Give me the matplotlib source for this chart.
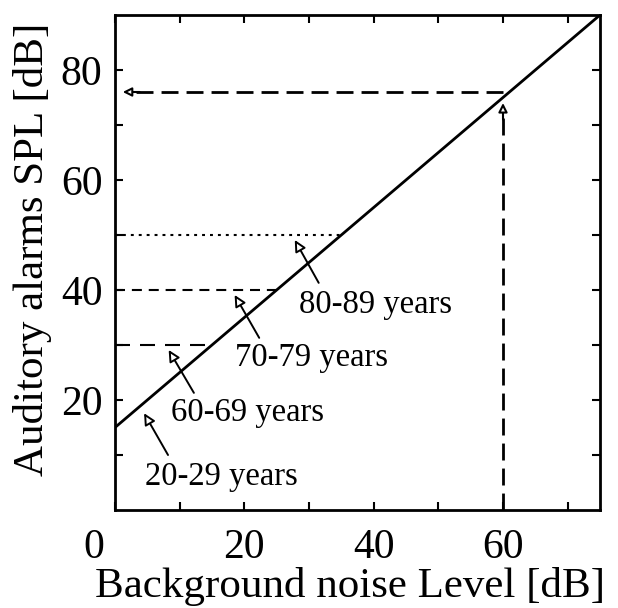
import matplotlib
matplotlib.use("Agg")
import matplotlib.pyplot as plt
from matplotlib.transforms import ScaledTranslation

plt.rcParams['font.family'] = ['Liberation Serif', 'DejaVu Serif']

# Relation between background noise and required alarm level
noise_range = [0, 75]
alarm_range = [15, 90]

# Age-group threshold levels (dB)
age_groups = ["20-29 years", "60-69 years", "70-79 years", "80-89 years"]
threshold_levels = [None, 30, 40, 50]

# Worked example: 60 dB background noise
example_noise = 60
example_alarm = 76

# Annotation geometry: (text x, text y), (arrow tail), (arrow tip)
label_xy = [(4.6, 6.0), (8.6, 17.6), (18.5, 27.6), (28.5, 37.3)]
arrow_tail = [(8.2, 10.0), (12.2, 21.3), (22.3, 31.3), (31.5, 41.3)]
arrow_tip = [(4.5, 17.6), (8.3, 29.1), (18.5, 39.1), (27.8, 49.1)]

x_ticks = [0, 20, 40, 60]
y_ticks = [20, 40, 60, 80]

fig = plt.figure(figsize=(6.18, 6.08), dpi=100)
ax = fig.add_axes([115 / 618, 1 - 510 / 608, 485 / 618, 495 / 608])

ax.plot(noise_range, alarm_range, color='black', lw=2.0, solid_capstyle='butt')

styles = {30: (0, (7.2, 4.8)), 40: (0, (4.8, 3.3)), 50: (0, (1.4, 2.4))}
for lvl in threshold_levels:
    if lvl is None:
        continue
    x_end = lvl - alarm_range[0]
    ax.plot([0, x_end], [lvl, lvl], color='black', lw=1.5, linestyle=styles[lvl])

# Example dashed guides with arrowheads
dash = (0, (6.1, 2.9))
ax.plot([example_noise, example_noise], [0, example_alarm - 4], color='black', lw=2.0, linestyle=dash)
ax.plot([example_noise, 3.0], [example_alarm, example_alarm], color='black', lw=2.0, linestyle=dash)
ax.annotate('', xy=(example_noise, example_alarm - 2), xytext=(example_noise, example_alarm - 5),
            arrowprops=dict(arrowstyle='-|>', color='black', lw=1.5, fc='white',
                            mutation_scale=13, shrinkA=0, shrinkB=0))
ax.annotate('', xy=(1.2, example_alarm), xytext=(3.8, example_alarm),
            arrowprops=dict(arrowstyle='-|>', color='black', lw=1.5, fc='white',
                            mutation_scale=13, shrinkA=0, shrinkB=0))

for name, txy, tail, tip in zip(age_groups, label_xy, arrow_tail, arrow_tip):
    ax.text(txy[0], txy[1], name, fontsize=23.5, ha='left', va='center')
    ax.annotate('', xy=tip, xytext=tail,
                arrowprops=dict(arrowstyle='-|>', color='black', lw=1.4, fc='white',
                                mutation_scale=17, shrinkA=0, shrinkB=0))

ax.set_xlim(0, 75)
ax.set_ylim(0, 90)
ax.set_xticks(x_ticks)
ax.set_xticks([10, 30, 50, 70], minor=True)
ax.set_yticks(y_ticks)
ax.set_yticks([10, 30, 50, 70], minor=True)
ax.tick_params(which='both', direction='in', top=True, right=True, length=6, width=1.5,
               labelsize=30)
ax.tick_params(axis='x', pad=13)
ax.tick_params(axis='y', pad=9)
for s in ax.spines.values():
    s.set_linewidth(2.0)

fig.canvas.draw()
zero_label = ax.get_xticklabels()[0]
zero_label.set_transform(zero_label.get_transform() + ScaledTranslation(-0.21, 0, fig.dpi_scale_trans))

ax.set_xlabel('Background noise Level [dB]', fontsize=31, labelpad=0.5)
ax.set_ylabel('Auditory alarms SPL [dB]', fontsize=31, labelpad=6)
ax.xaxis.label.set_x(0.485)
ax.yaxis.label.set_y(0.527)

fig.savefig('out.png', dpi=100)
